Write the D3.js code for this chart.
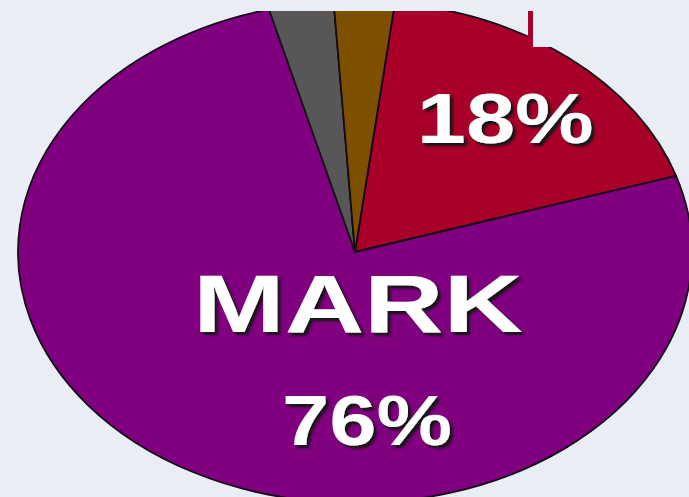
<!DOCTYPE html>
<html>
<head>
<meta charset="utf-8">
<script src="https://cdn.jsdelivr.net/npm/d3@7"></script>
<style>
  html, body { margin: 0; padding: 0; background: #e9edf6; }
  svg { display: block; }
</style>
</head>
<body>
<div class="box"></div>
<script>
// DATA (clockwise, starting from the red slice)
const sliceNames = ["Red", "MARK", "Grey", "Brown"];
const sliceValues = [18.2, 75.8, 3.1, 2.9];
const sliceColors = ["#a80028", "#800080", "#575757", "#7d5000"];

// text labels drawn on the chart
const labelTexts = ["18%", "MARK", "76%"];

// SVG
const w = 689;
const h = 497;

const svg = d3.select(".box")
    .append("svg")
    .attr("width", w)
    .attr("height", h)
    .style("background", "#e9edf6");

const defs = svg.append("defs");

// the pie picture is cut at the top, with a notch top-right
defs.append("clipPath")
    .attr("id", "cut")
    .append("path")
    .attr("d", "M0,11 H533 V47 H" + w + " V" + h + " H0 Z");

// drop shadow for the labels
defs.append("filter")
    .attr("id", "shadow")
    .attr("x", "-10%").attr("y", "-20%")
    .attr("width", "130%").attr("height", "150%")
    .append("feDropShadow")
    .attr("dx", 3)
    .attr("dy", 3)
    .attr("stdDeviation", 0.8)
    .attr("flood-color", "#141414")
    .attr("flood-opacity", 1);

// PIE (stretched circle -> ellipse)
const cx = 355, cy = 252;
const rx = 337, ry = 251;

const pie = d3.pie()
    .sort(null)
    .value(d => d)
    .startAngle(6.8 * Math.PI / 180)
    .endAngle(366.8 * Math.PI / 180);

const arc = d3.arc()
    .innerRadius(0)
    .outerRadius(ry);

const arcs = pie(sliceValues);

const pieG = svg.append("g")
    .attr("clip-path", "url(#cut)")
    .append("g")
    .attr("transform", "translate(" + cx + "," + cy + ") scale(" + (rx / ry) + ",1)");

pieG.selectAll("path")
    .data(arcs)
    .enter()
    .append("path")
    .attr("d", arc)
    .attr("fill", (d, i) => sliceColors[i])
    .attr("stroke", "#140a18")
    .attr("stroke-width", 1.8)
    .attr("stroke-linejoin", "round")
    .attr("vector-effect", "non-scaling-stroke");

// little red edge left of the notch
svg.append("rect")
    .attr("x", 528)
    .attr("y", 11)
    .attr("width", 5)
    .attr("height", 36)
    .attr("fill", sliceColors[0]);

// LABELS
// position of "18%" from the red slice centroid
const redMid = (arcs[0].startAngle + arcs[0].endAngle) / 2;
const rr = 0.70;
const redX = cx + rx * rr * Math.sin(redMid);

const labels = [
    { text: labelTexts[0], x: redX, y: 143, size: 71, len: 177 },
    { text: labelTexts[1], x: 358, y: 332, size: 82, len: 330 },
    { text: labelTexts[2], x: 367, y: 445, size: 70, len: 170 }
];

svg.append("g")
    .selectAll("text")
    .data(labels)
    .enter()
    .append("text")
    .attr("x", d => d.x - d.len / 2)
    .attr("y", d => d.y)
    .attr("textLength", d => d.len)
    .attr("lengthAdjust", "spacingAndGlyphs")
    .attr("font-family", "'Liberation Sans', Arial, sans-serif")
    .attr("font-weight", "bold")
    .attr("font-size", d => d.size)
    .attr("fill", "#ffffff")
    .attr("filter", "url(#shadow)")
    .text(d => d.text);
</script>
</body>
</html>
